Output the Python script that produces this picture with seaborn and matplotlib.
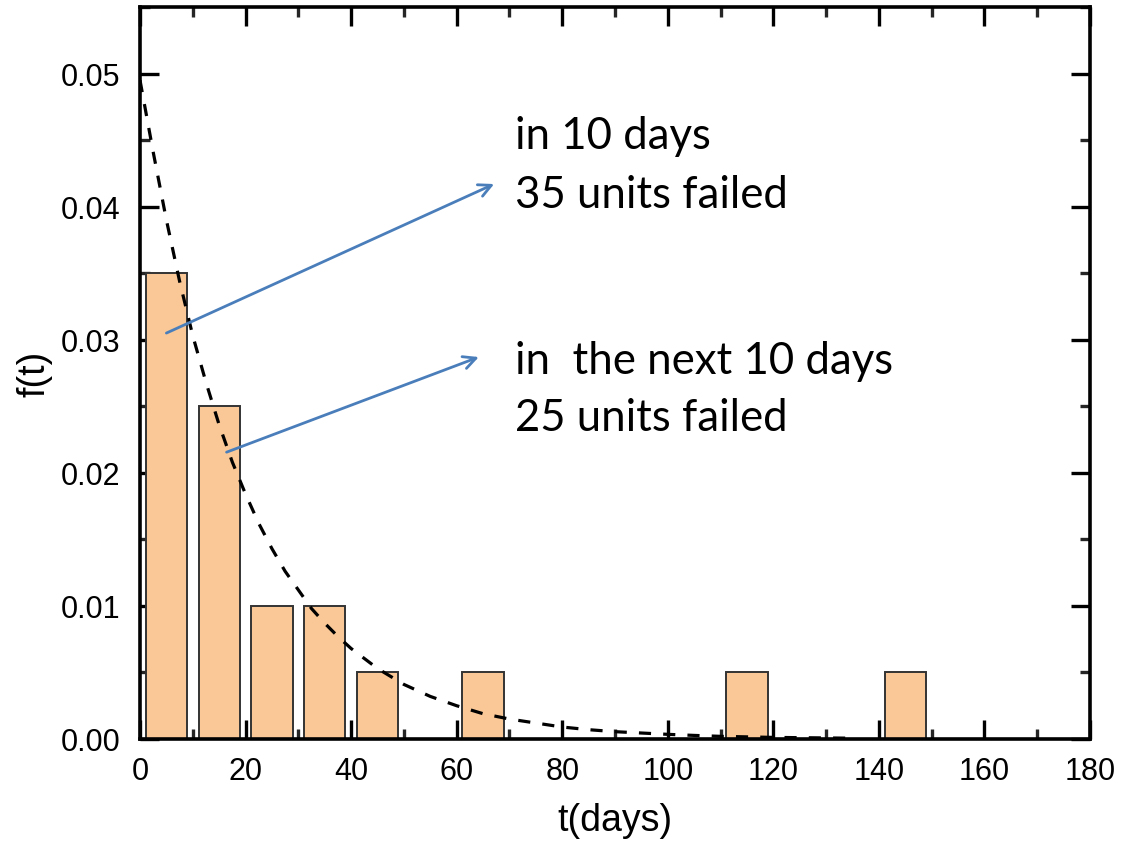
import matplotlib
matplotlib.use("Agg")
import matplotlib.pyplot as plt
from matplotlib.ticker import MultipleLocator
import seaborn as sns
import pandas as pd

# ---- data ----
bin_centers = [5, 15, 25, 35, 45, 65, 115, 145]
bin_density = [0.035, 0.025, 0.010, 0.010, 0.005, 0.005, 0.005, 0.005]

curve_t = [0, 2.5, 5, 7.5, 10, 12.5, 15, 17.5, 20, 22.5, 25, 27.5, 30, 32.5, 35,
           37.5, 40, 45, 50, 55, 60, 65, 70, 75, 80, 85, 90, 95, 100, 105, 110,
           115, 120, 125, 130, 135]
curve_f = [0.0495, 0.0441, 0.0390, 0.0344, 0.0303, 0.0268, 0.0236, 0.0208,
           0.0184, 0.0162, 0.0143, 0.0126, 0.0112, 0.0098, 0.0087, 0.0077,
           0.0068, 0.0053, 0.0041, 0.0032, 0.0025, 0.0019, 0.0015, 0.0012,
           0.0009, 0.0007, 0.00055, 0.00045, 0.00035, 0.00027, 0.0002,
           0.00016, 0.00012, 0.0001, 0.00008, 0.00006]

x_ticks = [0, 20, 40, 60, 80, 100, 120, 140, 160, 180]
y_ticks = [0.00, 0.01, 0.02, 0.03, 0.04, 0.05]

note1 = ["in 10 days", "35 units failed"]
note2 = ["in  the next 10 days", "25 units failed"]

bars_df = pd.DataFrame({"t": bin_centers, "f": bin_density})
curve_df = pd.DataFrame({"t": curve_t, "f": curve_f})

# ---- styling ----
sns.set_style("ticks")
plt.rcParams["font.family"] = ["Liberation Sans", "DejaVu Sans"]
plt.rcParams["text.color"] = "black"
plt.rcParams["axes.labelcolor"] = "black"

fig = plt.figure(figsize=(11.32, 8.45), dpi=100)
ax = fig.add_axes([140 / 1132, 105 / 845, 950 / 1132, 732 / 845])

sns.barplot(data=bars_df, x="t", y="f", native_scale=True, width=0.78,
            color="#F9C896", saturation=1, edgecolor="#333333", linewidth=1.4,
            ax=ax, zorder=2)

sns.lineplot(data=curve_df, x="t", y="f", color="black", linewidth=2.3,
             linestyle=(0, (3.8, 3.8)), ax=ax, zorder=3)

ax.set_xlim(0, 180)
ax.set_ylim(0, 0.055)
ax.set_xticks(x_ticks)
ax.set_yticks(y_ticks)
ax.set_xticklabels([str(v) for v in x_ticks])
ax.set_yticklabels([f"{v:.2f}" for v in y_ticks])
ax.xaxis.set_minor_locator(MultipleLocator(10))
ax.yaxis.set_minor_locator(MultipleLocator(0.005))

for s in ax.spines.values():
    s.set_visible(True)
    s.set_linewidth(2.6)
    s.set_color("black")

ax.tick_params(which="major", direction="in", length=14, width=2.4,
               top=True, right=True, labelsize=22, colors="black")
ax.tick_params(axis="y", which="major", pad=14)
ax.tick_params(axis="x", which="major", pad=12)
ax.tick_params(which="minor", direction="in", length=7, width=2.4,
               top=True, right=True)

ax.set_xlabel("t(days)", fontsize=27, labelpad=12)
ax.set_ylabel("f(t)", fontsize=27, labelpad=6)

# ---- annotations ----
blue = "#4A7EBB"
ax.annotate("", xy=(67.1, 0.0417), xytext=(5.0, 0.0305),
            arrowprops=dict(arrowstyle="->,head_length=0.9,head_width=0.45",
                            color=blue, lw=2.0, shrinkA=0, shrinkB=0), zorder=5)
ax.annotate("", xy=(64.2, 0.0287), xytext=(16.4, 0.02155),
            arrowprops=dict(arrowstyle="->,head_length=0.9,head_width=0.45",
                            color=blue, lw=2.0, shrinkA=0, shrinkB=0), zorder=5)

tfont = dict(family=["Lato", "DejaVu Sans"], fontsize=31.5, color="black",
             va="baseline", ha="left")
ax.text(71.1, 0.0444, note1[0], **tfont)
ax.text(71.1, 0.0400, note1[1], **tfont)
ax.text(71.1, 0.02752, note2[0], **tfont)
ax.text(71.1, 0.02325, note2[1], **tfont)

fig.savefig("out.png", dpi=100)
